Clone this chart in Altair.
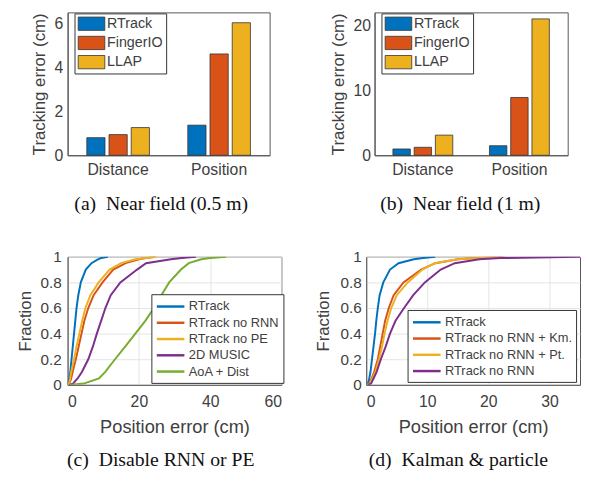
import altair as alt
import pandas as pd

# ---------------- data ----------------
groups = ["Distance", "Position"]
methods = ["RTrack", "FingerIO", "LLAP"]
bar_colors = ["#0072BD", "#D95319", "#EDB120"]

# (a) Near field 0.5 m
a_rtrack = [0.80, 1.37]
a_fingerio = [0.94, 4.61]
a_llap = [1.26, 6.03]
# (b) Near field 1 m
b_rtrack = [0.97, 1.47]
b_fingerio = [1.23, 8.9]
b_llap = [3.1, 21.0]

# CDF levels (fraction) and error (cm) read at each level
levels = [0, 0.01, 0.05, 0.1, 0.2, 0.3, 0.4, 0.5, 0.6, 0.7, 0.8, 0.9, 0.95, 0.98, 0.99, 1.0]

c_names = ["RTrack", "RTrack no RNN", "RTrack no PE", "2D MUSIC", "AoA + Dist"]
c_colors = ["#0072BD", "#D95319", "#EDB120", "#7E2F8E", "#77AC30"]
c_rtrack = [0, 0.2, 0.5, 0.75, 1.1, 1.45, 1.8, 2.15, 2.5, 3.0, 3.7, 5.1, 6.7, 8.5, 9.4, 11.3]
c_norn = [0.2, 0.5, 1.0, 1.4, 2.3, 3.1, 3.9, 4.7, 5.8, 7.3, 9.8, 12.8, 16.3, 20.0, 22.0, 24.6]
c_nope = [0.2, 0.4, 0.7, 1.0, 1.8, 2.5, 3.3, 4.1, 5.0, 6.4, 8.7, 11.8, 15.0, 19.0, 22.0, 25.0]
c_music = [0.5, 1.5, 2.8, 4.0, 5.8, 7.1, 8.2, 9.4, 10.6, 12.1, 14.8, 19.5, 22.0, 29.0, 32.0, 36.0]
c_aoa = [0.5, 4.5, 8.8, 10.5, 13.3, 16.2, 19.0, 21.8, 24.2, 26.3, 28.5, 31.8, 34.0, 37.5, 40.0, 44.5]

d_names = ["RTrack", "RTrack no RNN + Km.", "RTrack no RNN + Pt.", "RTrack no RNN"]
d_colors = ["#0072BD", "#D95319", "#EDB120", "#7E2F8E"]
d_rtrack = [0.1, 0.3, 0.5, 0.7, 0.95, 1.2, 1.45, 1.65, 1.9, 2.2, 2.8, 3.9, 5.3, 7.8, 9.3, 11.3]
d_km = [0.2, 0.5, 0.9, 1.3, 1.9, 2.3, 2.7, 3.1, 3.7, 4.5, 6.1, 9.0, 11.3, 15.0, 18.0, 22.5]
d_pt = [0.2, 0.6, 1.0, 1.5, 2.1, 2.6, 3.0, 3.5, 4.1, 5.0, 6.8, 9.2, 11.2, 15.0, 18.5, 23.0]
d_norn = [0.3, 0.8, 1.2, 1.7, 2.4, 3.2, 3.9, 4.8, 6.2, 7.7, 9.6, 12.2, 14.5, 18.5, 22.0, 35.0]

SANS = "Liberation Sans"
SERIF = "Liberation Serif"
TXT = "#404040"
EDGE = "#333333"


def bar_panel(r, f, l, ymax, yticks, caption, cap_dx, w, lab_pad, extent, title_x):
    df = pd.DataFrame({
        "group": groups * 3,
        "method": [m for m in methods for _ in groups],
        "value": r + f + l,
    })
    return alt.Chart(df).mark_bar(stroke=EDGE, strokeWidth=0.8).encode(
        x=alt.X("group:N", sort=groups,
                scale=alt.Scale(paddingInner=0.38, paddingOuter=0.19),
                axis=alt.Axis(title=None, labelAngle=0, labelPadding=7, labelFontSize=16)),
        xOffset=alt.XOffset("method:N", sort=methods, scale=alt.Scale(paddingInner=0.18)),
        y=alt.Y("value:Q", scale=alt.Scale(domain=[0, ymax], nice=False),
                axis=alt.Axis(title="Tracking error (cm)", values=yticks, grid=False,
                              labelPadding=lab_pad, minExtent=extent, maxExtent=extent,
                              titleX=title_x, titleBaseline="middle",
                              titleFontSize=17, labelFontSize=16)),
        color=alt.Color("method:N", sort=methods,
                        scale=alt.Scale(domain=methods, range=bar_colors),
                        legend=alt.Legend(title=None, orient="none", legendX=7, legendY=1,
                                          symbolType="M-1,-1H3V1H-1Z", symbolSize=182,
                                          symbolStrokeColor=EDGE, symbolStrokeWidth=0.8,
                                          symbolOpacity=1, labelFontSize=14.5, labelFont=SANS,
                                          labelColor=TXT, labelOffset=15, rowPadding=2.5,
                                          padding=3, strokeColor=EDGE, fillColor="white")),
    ).properties(
        width=w, height=145,
        title=alt.TitleParams(caption, orient="bottom", anchor="middle", frame="group",
                              dx=cap_dx, offset=17),
    )


def cdf_panel(names, colors, series, xmax, xticks, caption, cap_dx, lx, ly, w,
              lab_pad, extent, title_x):
    rows = []
    for name, vals in zip(names, series):
        for lev, v in zip(levels, vals):
            rows.append({"series": name, "err": v, "frac": lev})
    df = pd.DataFrame(rows)
    return alt.Chart(df).mark_line(strokeWidth=2, clip=True).encode(
        x=alt.X("err:Q", scale=alt.Scale(domain=[0, xmax], nice=False),
                axis=alt.Axis(title="Position error (cm)", values=xticks, grid=True,
                              labelPadding=9, titlePadding=8, titleFontSize=18.5,
                              labelFontSize=16)),
        y=alt.Y("frac:Q", scale=alt.Scale(domain=[0, 1], nice=False),
                axis=alt.Axis(title="Fraction", values=[0, 0.2, 0.4, 0.6, 0.8, 1.0],
                              format="~g", grid=True, labelPadding=lab_pad,
                              minExtent=extent, maxExtent=extent, titleX=title_x,
                              titleBaseline="middle", titleFontSize=17, labelFontSize=15.5)),
        color=alt.Color("series:N", sort=names,
                        scale=alt.Scale(domain=names, range=colors),
                        legend=alt.Legend(title=None, orient="none", legendX=lx, legendY=ly,
                                          symbolType="M-1,0H3", symbolSize=196,
                                          symbolStrokeWidth=2.5, labelFontSize=13,
                                          labelFont=SANS, labelColor=TXT, labelOffset=17,
                                          rowPadding=0.5, padding=4, strokeColor=EDGE,
                                          fillColor="white")),
        order=alt.Order("frac:Q"),
    ).properties(
        width=w, height=130,
        title=alt.TitleParams(caption, orient="bottom", anchor="middle", frame="group",
                              dx=cap_dx, offset=15),
    )


pa = bar_panel(a_rtrack, a_fingerio, a_llap, 6.5, [0, 2, 4, 6],
               "(a)\u2002Near field (0.5 m)", -7.5, 205, 5, 57.5, -28)
pb = bar_panel(b_rtrack, b_fingerio, b_llap, 22, [0, 10, 20],
               "(b)\u2002Near field (1 m)", -11, 196, 4, 50, -37)
pc = cdf_panel(c_names, c_colors, [c_rtrack, c_norn, c_nope, c_music, c_aoa],
               60, [0, 20, 40, 60], "(c)\u2002Disable RNN or PE", -14, 85, 38, 217,
               6.5, 52, -42.5)
pd_ = cdf_panel(d_names, d_colors, [d_rtrack, d_km, d_pt, d_norn],
                35, [0, 10, 20, 30], "(d)\u2002Kalman & particle", -15, 42, 54, 217,
                5, 52, -43)

row1 = alt.hconcat(pa, pb, spacing=54.5).resolve_scale(
    color="independent", x="independent", y="independent", xOffset="independent"
).resolve_legend(color="independent")
row2 = alt.hconcat(pc, pd_, spacing=30).resolve_scale(
    color="independent", x="independent", y="independent"
).resolve_legend(color="independent")

chart = alt.vconcat(row1, row2, spacing=34).resolve_scale(
    color="independent", x="independent", y="independent", xOffset="independent"
).resolve_legend(color="independent").properties(
    padding={"left": 2.5, "top": 0, "right": 0, "bottom": 0},
    background="white",
).configure_view(
    stroke="#555555", strokeWidth=1,
).configure_axis(
    domainColor="#555555", labelColor=TXT, titleColor=TXT, labelFont=SANS, titleFont=SANS,
    labelFontSize=15, titleFontSize=17, titleFontWeight="normal", ticks=False,
    gridColor="#e4e4e4", gridWidth=1,
).configure_title(
    font=SERIF, fontSize=20, fontWeight="normal", color="#111111",
)

chart.save("out.html", embed_options={"renderer": "svg", "actions": False})
